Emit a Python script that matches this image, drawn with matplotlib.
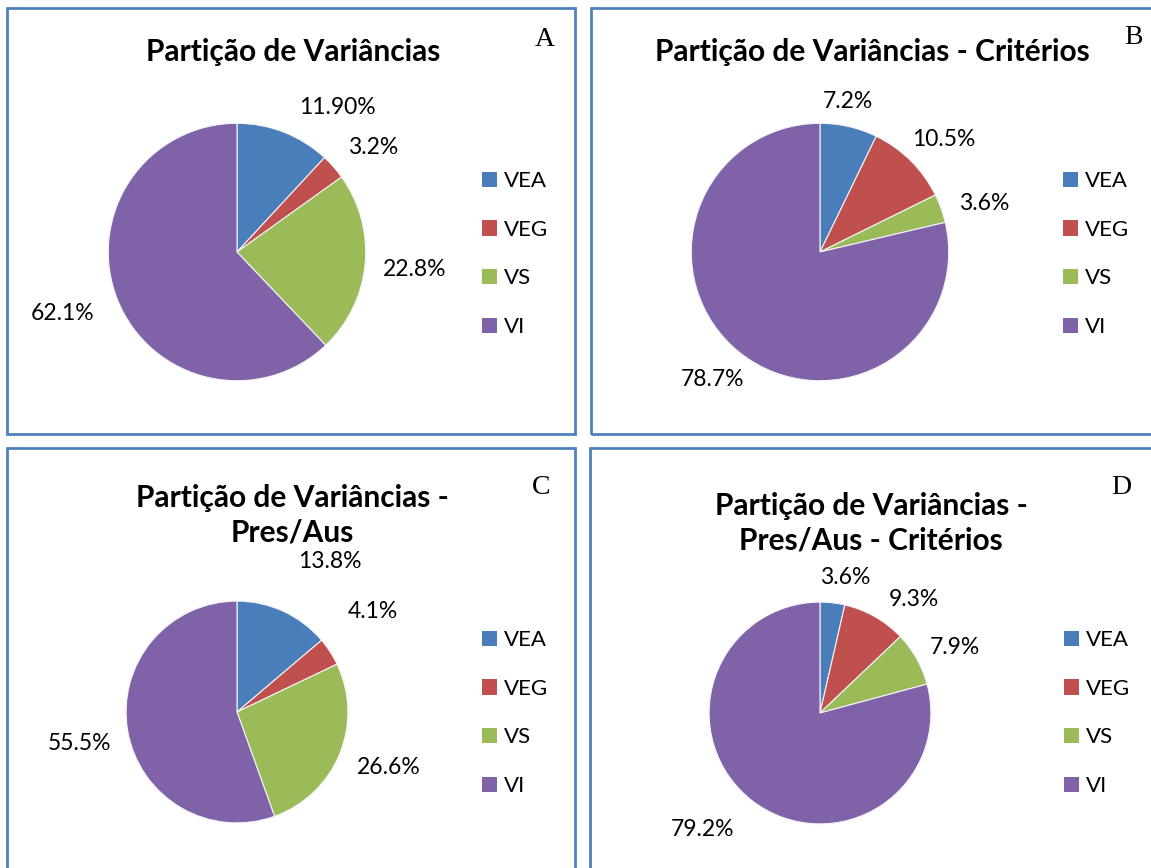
import matplotlib
matplotlib.use("Agg")
import matplotlib.pyplot as plt
from matplotlib.patches import Rectangle, Patch

W, H = 1151, 868

categorias = ["VEA", "VEG", "VS", "VI"]
cores = ["#4a7ebb", "#c0504d", "#9bbb59", "#7f62a8"]

valores_a = [11.9, 3.2, 22.8, 62.1]
valores_b = [7.2, 10.5, 3.6, 78.7]
valores_c = [13.8, 4.1, 26.6, 55.5]
valores_d = [3.6, 9.3, 7.9, 79.2]

rotulos_a = ["11.90%", "3.2%", "22.8%", "62.1%"]
rotulos_b = ["7.2%", "10.5%", "3.6%", "78.7%"]
rotulos_c = ["13.8%", "4.1%", "26.6%", "55.5%"]
rotulos_d = ["3.6%", "9.3%", "7.9%", "79.2%"]

titulos = ["Partição de Variâncias",
           "Partição de Variâncias - Critérios",
           "Partição de Variâncias -\nPres/Aus",
           "Partição de Variâncias -\nPres/Aus - Critérios"]
letras = ["A", "B", "C", "D"]

plt.rcParams['font.family'] = ['Lato', 'DejaVu Sans']

fig = plt.figure(figsize=(W / 100, H / 100), dpi=100)


def fx(x):
    return x / W


def fy(y):
    return 1 - y / H


# layout de cada painel (pixels): moldura, centro/raio da pizza, titulo, letra, legenda, rotulos
paineis = [
    dict(vals=valores_a, rot=rotulos_a, box=(7, 8, 568, 426), c=(237, 252), r=130,
         tit=(293, 52), let=(545, 40), leg=(482, 171),
         pos=[(337, 108), (373, 148), (415, 270), (63, 314)]),
    dict(vals=valores_b, rot=rotulos_b, box=(591, 8, 580, 426), c=(820, 252), r=130,
         tit=(872, 52), let=(1133, 38), leg=(1063, 171),
         pos=[(848, 101), (944, 140), (984, 203), (713, 380)]),
    dict(vals=valores_c, rot=rotulos_c, box=(7, 448, 568, 440), c=(237, 712), r=112,
         tit=(292, 515), let=(541, 487), leg=(482, 630),
         pos=[(330, 561), (373, 612), (389, 768), (80, 743)]),
    dict(vals=valores_d, rot=rotulos_d, box=(590, 448, 580, 440), c=(820, 713), r=112,
         tit=(871, 523), let=(1121, 487), leg=(1064, 630),
         pos=[(845, 578), (914, 599), (955, 648), (703, 829)]),
]

for i, p in enumerate(paineis):
    bx, by, bw, bh = p["box"]
    fig.patches.append(Rectangle((fx(bx), fy(by + bh)), bw / W, bh / H,
                                 transform=fig.transFigure, fill=False,
                                 edgecolor="#4f81bd", linewidth=2))

    cx, cy = p["c"]
    r = p["r"]
    ax = fig.add_axes([fx(cx - r), fy(cy + r), 2 * r / W, 2 * r / H])
    ax.pie(p["vals"], colors=cores, startangle=90, counterclock=False,
           wedgeprops=dict(edgecolor="#f4f4f8", linewidth=0.8))
    ax.set_xlim(-1.01, 1.01)
    ax.set_ylim(-1.01, 1.01)
    ax.axis("off")

    for txt, (x, y) in zip(p["rot"], p["pos"]):
        fig.text(fx(x), fy(y), txt, ha="center", va="center", fontsize=16.5)

    fig.text(fx(p["tit"][0]), fy(p["tit"][1]), titulos[i], ha="center", va="center",
             fontsize=21.5, fontweight="bold", linespacing=1.28)
    fig.text(fx(p["let"][0]), fy(p["let"][1]), letras[i], ha="center", va="center",
             fontsize=20, family=["Liberation Serif", "DejaVu Serif"])

    handles = [Patch(facecolor=c, edgecolor="none") for c in cores]
    fig.legend(handles, categorias, loc="upper left",
               bbox_to_anchor=(fx(p["leg"][0]), fy(p["leg"][1])),
               frameon=False, fontsize=16, handlelength=0.68, handleheight=0.68,
               handletextpad=0.3, labelspacing=1.29, borderaxespad=0, borderpad=0)

fig.savefig("out.png", dpi=100)
